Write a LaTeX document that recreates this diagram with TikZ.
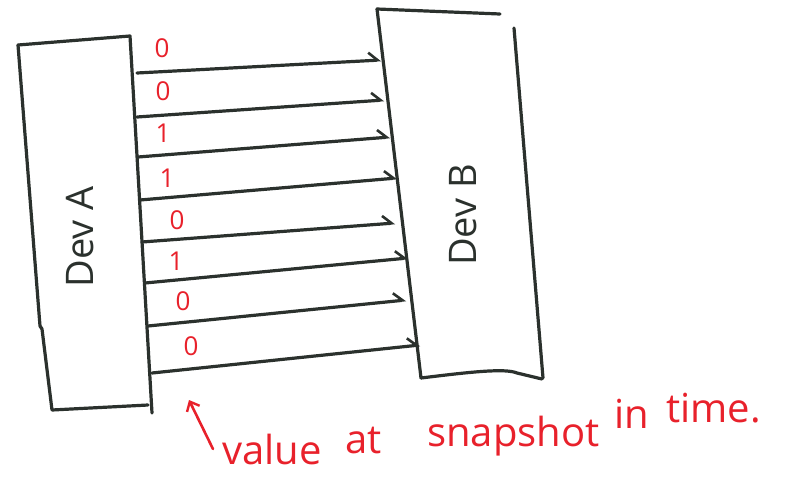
\documentclass[tikz,border=0pt]{standalone}
\usepackage{fontspec}
\setmainfont{Open Sans}
\usetikzlibrary{arrows.meta}
\definecolor{ink}{HTML}{2B312D}
\definecolor{redink}{HTML}{E8212B}
\tikzset{
  boxline/.style={draw=ink, line width=3.2pt, line cap=round, line join=round},
  sig/.style={draw=ink, line width=3.2pt, line cap=round, -{Straight Barb[left,length=9pt,width=16pt,line width=2.6pt]}},
  bit/.style={text=redink, font=\fontsize{26}{26}\selectfont, inner sep=0pt},
  devlabel/.style={text=ink, font=\fontsize{38}{38}\selectfont, rotate=90, inner sep=0pt},
  note/.style={text=redink, font=\fontsize{40}{40}\selectfont, inner sep=0pt, anchor=base west},
  pointer/.style={draw=redink, line width=2.6pt, line cap=round, -{Straight Barb[length=8pt,width=14pt,line width=2.4pt]}}
}
\begin{document}
\begin{tikzpicture}[x=1pt,y=-1pt]
\useasboundingbox (0,0) rectangle (794,490);
% Dev A box
\draw[boxline] (18,45) -- (130,36) -- (152,413);
\draw[boxline] (18,45) -- (40,326) -- (42,329) -- (52,410) -- (148,405);
% Dev B box
\draw[boxline] (377,9) -- (500,14);
\draw[boxline] (377,9) -- (421,378);
\draw[boxline] (514,28) -- (543,378);
\draw[boxline] (421,378) .. controls (470,372) and (505,368) .. (517,373) -- (542,379);
% labels of devices
\node[devlabel] (devA) at (80,237) {Dev A};
\node[devlabel] (devB) at (463,215) {Dev B};
% arrows
\coordinate (a1) at (137,73);  \coordinate (b1) at (381,60);
\coordinate (a2) at (137,117); \coordinate (b2) at (384,100);
\coordinate (a3) at (138,157); \coordinate (b3) at (390,137);
\coordinate (a4) at (140,200); \coordinate (b4) at (397,178);
\coordinate (a5) at (142,242); \coordinate (b5) at (395,223);
\coordinate (a6) at (145,283); \coordinate (b6) at (408,258);
\coordinate (a7) at (148,326); \coordinate (b7) at (406,300);
\coordinate (a8) at (152,373); \coordinate (b8) at (420,345);
\foreach \i in {1,...,8} { \draw[sig] (a\i) -- (b\i); }
% bits
\node[bit] (v1) at (162,48) {0};
\node[bit] (v2) at (163,91) {0};
\node[bit] (v3) at (163,133) {1};
\node[bit] (v4) at (167,178) {1};
\node[bit] (v5) at (177,220) {0};
\node[bit] (v6) at (176,261) {1};
\node[bit] (v7) at (183,301) {0};
\node[bit] (v8) at (191,346) {0};
% note
\coordinate (ptail) at (213,449);
\coordinate (ptip) at (189,400);
\draw[pointer] (ptail) -- (ptip);
\node[note] (w1) at (222,464) {value};
\node[note] (w2) at (345,453) {at};
\node[note] (w3) at (427,446) {snapshot};
\node[note] (w4) at (614,428) {in};
\node[note] (w5) at (666,422) {time.};
\end{tikzpicture}
\end{document}
